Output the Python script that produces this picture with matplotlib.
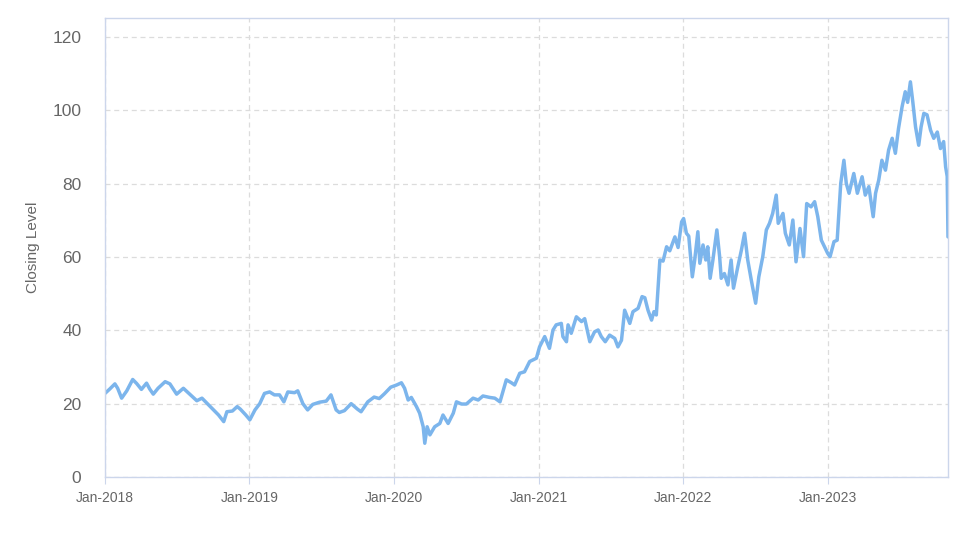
import matplotlib
matplotlib.use('Agg')
import matplotlib.pyplot as plt
import matplotlib.dates as mdates
import pandas as pd

# closing levels
dates = [
    '2018-01-01', '2018-01-13', '2018-01-26', '2018-02-02', '2018-02-12', '2018-02-25',
    '2018-03-12', '2018-03-22', '2018-04-03', '2018-04-16', '2018-04-24', '2018-05-03',
    '2018-05-15', '2018-06-02', '2018-06-14', '2018-07-01', '2018-07-18', '2018-08-04',
    '2018-08-21', '2018-09-03', '2018-09-24', '2018-10-15', '2018-10-28', '2018-11-05',
    '2018-11-19', '2018-12-01', '2018-12-09', '2018-12-22',
    '2019-01-02', '2019-01-15', '2019-01-27', '2019-02-08', '2019-02-21', '2019-03-05',
    '2019-03-18', '2019-03-29', '2019-04-08', '2019-04-25', '2019-05-03', '2019-05-16',
    '2019-05-28', '2019-06-10', '2019-06-27', '2019-07-14', '2019-07-26', '2019-08-08',
    '2019-08-16', '2019-08-29', '2019-09-15', '2019-10-01', '2019-10-10', '2019-10-27',
    '2019-11-12', '2019-11-25', '2019-12-08', '2019-12-24',
    '2020-01-08', '2020-01-20', '2020-01-28', '2020-02-06', '2020-02-14', '2020-02-27',
    '2020-03-06', '2020-03-15', '2020-03-19', '2020-03-25', '2020-04-01', '2020-04-13',
    '2020-04-26', '2020-05-04', '2020-05-17', '2020-05-30', '2020-06-07', '2020-06-20',
    '2020-07-02', '2020-07-19', '2020-08-01', '2020-08-13', '2020-08-30', '2020-09-12',
    '2020-09-25', '2020-10-11', '2020-10-24', '2020-11-01', '2020-11-14', '2020-11-26',
    '2020-12-09', '2020-12-26',
    '2021-01-03', '2021-01-16', '2021-01-28', '2021-02-06', '2021-02-14', '2021-02-27',
    '2021-03-03', '2021-03-12', '2021-03-16', '2021-03-24', '2021-04-06', '2021-04-19',
    '2021-04-27', '2021-05-10', '2021-05-22', '2021-05-31', '2021-06-08', '2021-06-18',
    '2021-06-29', '2021-07-12', '2021-07-20', '2021-07-29', '2021-08-06', '2021-08-19',
    '2021-08-27', '2021-09-09', '2021-09-19', '2021-09-26', '2021-10-04', '2021-10-13',
    '2021-10-19', '2021-10-25', '2021-11-03', '2021-11-11', '2021-11-20', '2021-11-28',
    '2021-12-11', '2021-12-19', '2021-12-28',
    '2022-01-02', '2022-01-09', '2022-01-15', '2022-01-24', '2022-01-30', '2022-02-07',
    '2022-02-12', '2022-02-20', '2022-02-27', '2022-03-04', '2022-03-10', '2022-03-17',
    '2022-03-27', '2022-04-03', '2022-04-07', '2022-04-15', '2022-04-24', '2022-05-02',
    '2022-05-08', '2022-05-19', '2022-05-28', '2022-06-05', '2022-06-13', '2022-06-22',
    '2022-07-03', '2022-07-11', '2022-07-21', '2022-07-30', '2022-08-07', '2022-08-15',
    '2022-08-24', '2022-08-29', '2022-09-10', '2022-09-16', '2022-09-26', '2022-10-05',
    '2022-10-13', '2022-10-23', '2022-11-01', '2022-11-09', '2022-11-20', '2022-11-29',
    '2022-12-07', '2022-12-16',
    '2023-01-01', '2023-01-07', '2023-01-17', '2023-01-25', '2023-02-03', '2023-02-11',
    '2023-02-17', '2023-02-24', '2023-03-08', '2023-03-17', '2023-03-29', '2023-04-06',
    '2023-04-15', '2023-04-26', '2023-05-02', '2023-05-10', '2023-05-18', '2023-05-27',
    '2023-06-04', '2023-06-13', '2023-06-21', '2023-06-29', '2023-07-08', '2023-07-16',
    '2023-07-22', '2023-07-29', '2023-08-04', '2023-08-11', '2023-08-19', '2023-08-25',
    '2023-09-01', '2023-09-09', '2023-09-18', '2023-09-26', '2023-10-05', '2023-10-13',
    '2023-10-21', '2023-10-26', '2023-10-30', '2023-11-01',
]
closing = [
    22.8, 24.0, 25.4, 24.2, 21.5, 23.5,
    26.6, 25.5, 23.9, 25.6, 24.0, 22.6,
    24.2, 26.0, 25.4, 22.6, 24.2, 22.5,
    20.8, 21.5, 19.2, 16.9, 15.1, 17.8,
    18.0, 19.2, 18.5, 17.0,
    15.6, 18.3, 20.0, 22.8, 23.2, 22.4,
    22.4, 20.5, 23.2, 23.0, 23.5, 20.0,
    18.3, 19.8, 20.4, 20.7, 22.4, 18.3,
    17.6, 18.1, 20.0, 18.5, 17.8, 20.5,
    21.8, 21.4, 22.7, 24.5,
    25.1, 25.7, 24.2, 21.0, 21.7, 19.2,
    17.4, 13.7, 9.2, 13.7, 11.5, 13.7,
    14.6, 16.9, 14.6, 17.4, 20.5, 19.9,
    19.9, 21.5, 21.0, 22.1, 21.7, 21.5,
    20.5, 26.5, 25.7, 25.1, 28.3, 28.7,
    31.5, 32.4,
    35.5, 38.3, 35.1, 40.1, 41.5, 41.9,
    38.3, 36.9, 41.5, 39.2, 43.7, 42.4,
    43.2, 36.9, 39.6, 40.1, 38.3, 36.9,
    38.7, 37.8, 35.5, 37.3, 45.5, 41.9,
    45.1, 46.0, 49.2, 48.9, 45.5, 42.8,
    45.1, 44.2, 59.2, 58.9, 62.8, 61.7,
    65.5, 62.6, 69.6,
    70.5, 66.5, 65.7, 54.6, 59.2, 66.9,
    58.3, 63.3, 59.2, 62.8, 54.2, 59.2,
    67.4, 60.1, 54.2, 55.5, 52.4, 59.2,
    51.5, 57.4, 61.9, 66.5, 59.2, 53.7,
    47.4, 54.6, 60.1, 67.4, 69.2, 71.9,
    76.9, 69.2, 71.9, 66.5, 63.3, 70.1,
    58.7, 67.8, 60.1, 74.6, 73.7, 75.1,
    71.0, 64.6,
    61.0, 60.1, 64.2, 64.6, 80.1, 86.4,
    80.1, 77.4, 82.8, 77.4, 81.9, 76.9,
    79.2, 71.0, 77.4, 81.0, 86.4, 83.7,
    89.2, 92.4, 88.3, 95.1, 101.0, 105.1,
    102.2, 107.8, 102.4, 95.5, 90.5, 95.5,
    99.2, 98.8, 94.6, 92.4, 94.1, 89.6,
    91.5, 84.6, 82.0, 65.5,
]
yticks = [0, 20, 40, 60, 80, 100, 120]
xtick_dates = ['2018-01-01', '2019-01-01', '2020-01-01', '2021-01-01', '2022-01-01', '2023-01-01']

plt.rcParams['font.family'] = ['Liberation Sans', 'DejaVu Sans']

fig = plt.figure(figsize=(9.74, 5.47), dpi=100)
ax = fig.add_axes([0.1078, 0.128, 0.8655, 0.839])

ax.plot(pd.to_datetime(dates), closing, color='#7cb5ec', lw=2.5,
        solid_joinstyle='round', solid_capstyle='round')

ax.set_xlim(pd.Timestamp('2018-01-01'), pd.Timestamp('2023-11-01'))
ax.set_ylim(0, 125.2)
ax.set_yticks(yticks)
ax.set_xticks(pd.to_datetime(xtick_dates))
ax.xaxis.set_major_formatter(mdates.DateFormatter('%b-%Y'))

ax.grid(True, color='#dcdcdc', linestyle=(0, (4, 3)), lw=0.9)
ax.set_axisbelow(True)
for s in ax.spines.values():
    s.set_color('#ccd6eb')
    s.set_linewidth(1.0)

ax.tick_params(axis='y', length=0, pad=17, labelsize=12.5, labelcolor='#666666')
ax.tick_params(axis='x', length=5, color='#ccd6eb', pad=5, labelsize=10, labelcolor='#666666')
ax.set_ylabel('Closing Level', fontsize=11, color='#666666', labelpad=9)

fig.savefig('out.png', dpi=100)
